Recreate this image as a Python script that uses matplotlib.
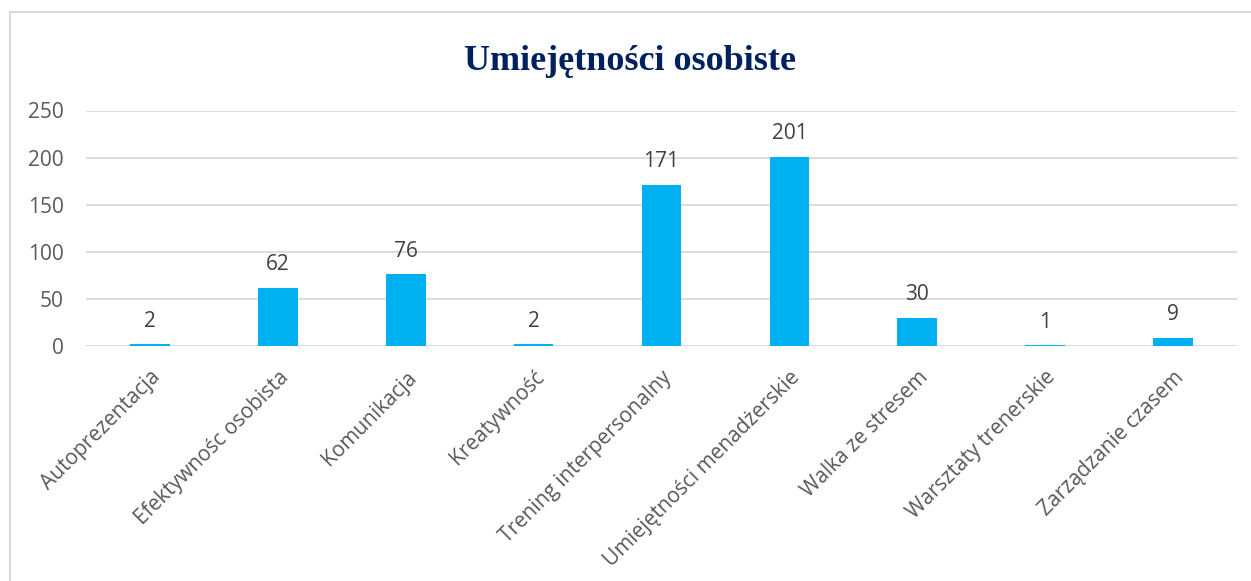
import matplotlib
matplotlib.use("Agg")
import matplotlib.pyplot as plt
from matplotlib.patches import Rectangle

kategorie = ["Autoprezentacja", "Efektywnośc osobista", "Komunikacja", "Kreatywność",
             "Trening interpersonalny", "Umiejętności menadżerskie", "Walka ze stresem",
             "Warsztaty trenerskie", "Zarządzanie czasem"]
wartosci = [2, 62, 76, 2, 171, 201, 30, 1, 9]
yticks = [0, 50, 100, 150, 200, 250]

W, H = 1251, 581
plt.rcParams["font.family"] = ["Open Sans", "DejaVu Sans"]

fig = plt.figure(figsize=(W / 100, H / 100), dpi=100)
fig.patch.set_facecolor("white")

# ramka wykresu (jak w Excelu)
fig.patches.append(Rectangle((10 / W, -0.1), 1.2, 1 - 12 / H + 0.1, transform=fig.transFigure,
                             fill=False, edgecolor="#D9D9D9", linewidth=1.5))

ax = fig.add_axes([86 / W, 1 - 346 / H, (1237 - 86) / W, (346 - 110.5) / H])
x = range(len(kategorie))
ax.bar(x, wartosci, width=0.31, color="#00B0F0", zorder=3)

for i, v in enumerate(wartosci):
    ax.annotate(str(v), (i, v), xytext=(0, 9), textcoords="offset points",
                ha="center", va="bottom", fontsize=15, color="#404040")

ax.set_xlim(-0.5, len(kategorie) - 0.5)
ax.set_ylim(0, 250)
ax.set_yticks(yticks)
ax.yaxis.grid(True, color="#D9D9D9", linewidth=1.3, zorder=0)
ax.tick_params(axis="y", length=0, pad=16, labelsize=15, labelcolor="#595959")
ax.tick_params(axis="x", length=0, pad=15)
ax.set_xticks(list(x))
ax.set_xticklabels(kategorie, rotation=45, ha="right", rotation_mode="anchor",
                   fontsize=15, color="#595959")
for s in ax.spines.values():
    s.set_visible(False)

fig.text(630 / W, 1 - 70 / H, "Umiejętności osobiste", ha="center", va="baseline",
         fontsize=26, fontweight="bold", color="#002060", family="Liberation Serif")

fig.savefig("out.png", dpi=100)
